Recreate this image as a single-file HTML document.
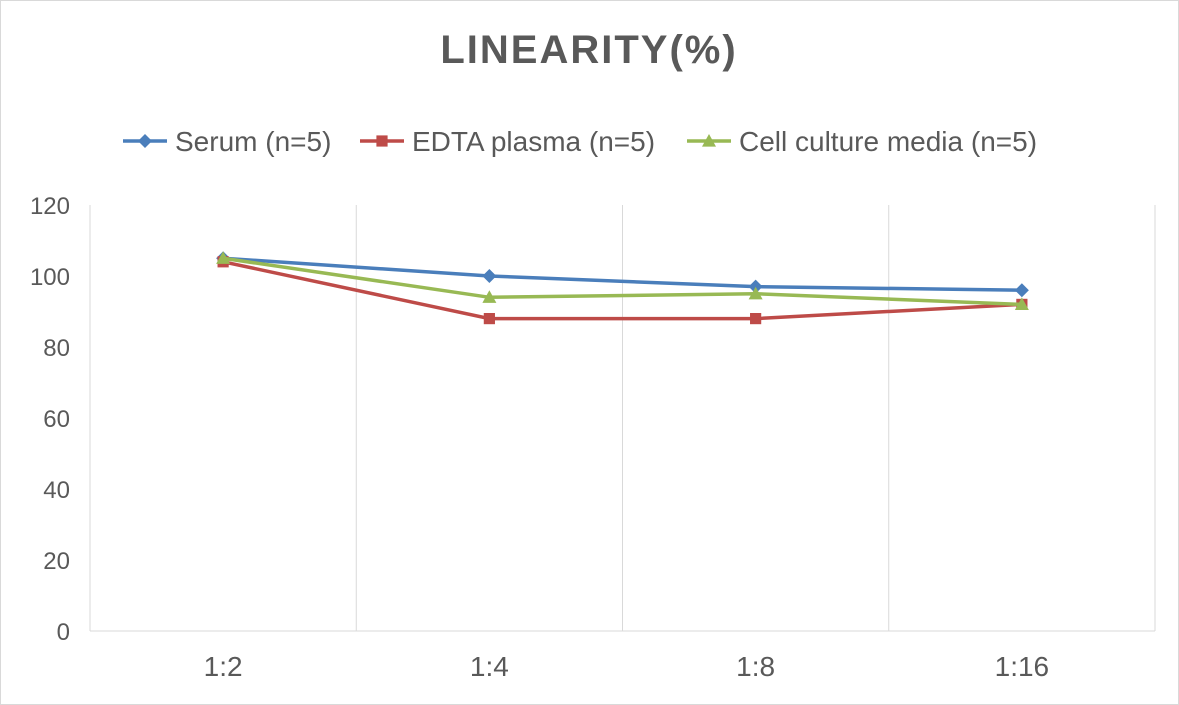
<!DOCTYPE html>
<html><head><meta charset="utf-8"><style>
html,body{margin:0;padding:0;background:#fff;}
svg{display:block;font-family:"Liberation Sans",sans-serif;}
</style></head><body>
<svg id="chart" width="1179" height="705">
<rect x="0.5" y="0.5" width="1178" height="704" fill="#fff" stroke="#d9d9d9"/>
<text x="589" y="63" text-anchor="middle" font-size="40" font-weight="bold" fill="#595959" letter-spacing="2">LINEARITY(%)</text>
<g id="legend"></g>
<g id="grid"></g>
<g id="axes"></g>
<g id="series"></g>
</svg>
<script>
const categories = ["1:2","1:4","1:8","1:16"];
const serum = [105,100,97,96];
const edta = [104,88,88,92];
const cellMedia = [105,94,95,92];
const yTicks = [0,20,40,60,80,100,120];
const seriesNames = ["Serum (n=5)","EDTA plasma (n=5)","Cell culture media (n=5)"];

const NS="http://www.w3.org/2000/svg";
const x0=90,x1=1155,y0=631,y1=205,ymax=120;
const bw=(x1-x0)/categories.length;
const xs=i=>x0+bw*(i+0.5);
const ys=v=>y0-(v/ymax)*(y0-y1);
function mk(tag,attrs,parent){const e=document.createElementNS(NS,tag);for(const k in attrs)e.setAttribute(k,attrs[k]);parent.appendChild(e);return e;}
const grid=document.getElementById('grid'),axes=document.getElementById('axes'),ser=document.getElementById('series'),leg=document.getElementById('legend');
for(let i=0;i<=categories.length;i++){
  const l=mk('line',{x1:x0+bw*i,x2:x0+bw*i,y1:y1,y2:y0,stroke:'#d9d9d9','stroke-width':1},grid);
  
  
}
const ax=mk('line',{x1:x0,x2:x1,y1:y0,y2:y0,stroke:'#d9d9d9','stroke-width':1},axes);


yTicks.forEach(t=>{
  const e=mk('text',{x:70,y:ys(t)+9,'text-anchor':'end','font-size':24,fill:'#595959'},axes);
  e.textContent=t;
  
  
});
categories.forEach((c,i)=>{
  const e=mk('text',{x:xs(i),y:676,'text-anchor':'middle','font-size':28,fill:'#595959'},axes);
  e.textContent=c;
  
  
});
const colors=['#4a7ebb','#be4b48','#98b954'];
const datasets=[serum,edta,cellMedia];
function marker(k,cx,cy,parent,s){
  let e;
  if(k===0)e=mk('polygon',{points:`${cx},${cy-s} ${cx+s},${cy} ${cx},${cy+s} ${cx-s},${cy}`,fill:colors[0]},parent);
  else if(k===1)e=mk('rect',{x:cx-s*0.8,y:cy-s*0.8,width:s*1.6,height:s*1.6,fill:colors[1]},parent);
  else e=mk('polygon',{points:`${cx},${cy-s} ${cx+s},${cy+s*0.8} ${cx-s},${cy+s*0.8}`,fill:colors[2]},parent);
  return e;
}
datasets.forEach((d,k)=>{
  const g=mk('g',{},ser);
  
  
  const pl=mk('polyline',{points:d.map((v,i)=>xs(i)+','+ys(v)).join(' '),fill:'none',stroke:colors[k],'stroke-width':3.5},g);
  
  
  d.forEach((v,i)=>{
    const m=marker(k,xs(i),ys(v),g,7);
    
    
  });
});
const legX=[123,360,687];
seriesNames.forEach((n,k)=>{
  const g=mk('g',{},leg);
  
  
  mk('line',{x1:legX[k],x2:legX[k]+44,y1:141,y2:141,stroke:colors[k],'stroke-width':3.5},g);
  marker(k,legX[k]+22,141,g,7);
  const t=mk('text',{x:legX[k]+52,y:151,'font-size':28,fill:'#595959'},g);
  t.textContent=n;
});
</script>
</body></html>
